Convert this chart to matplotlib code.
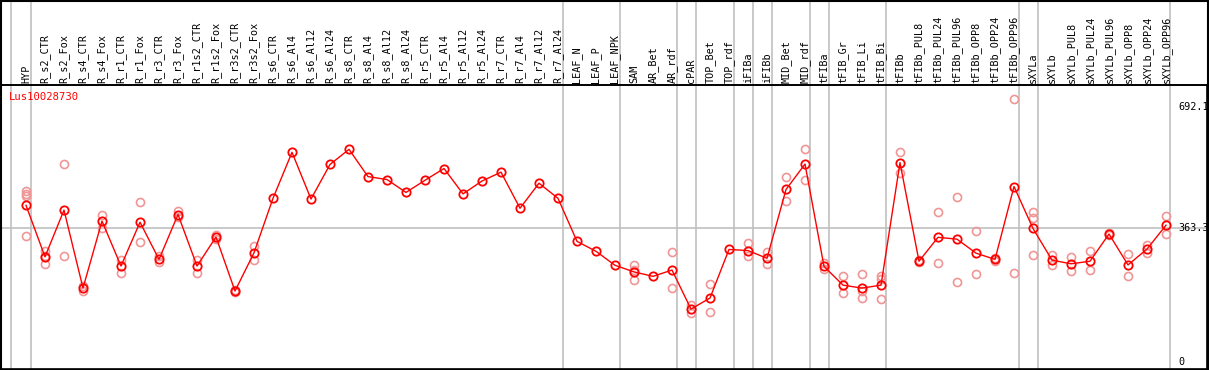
import matplotlib
matplotlib.use("Agg")
import matplotlib.pyplot as plt
from matplotlib.transforms import blended_transform_factory
from matplotlib.patches import Rectangle

categories = ["HYP", "R_s2_CTR", "R_s2_Fox", "R_s4_CTR", "R_s4_Fox", "R_r1_CTR", "R_r1_Fox",
              "R_r3_CTR", "R_r3_Fox", "R_r1s2_CTR", "R_r1s2_Fox", "R_r3s2_CTR", "R_r3s2_Fox",
              "R_s6_CTR", "R_s6_Al4", "R_s6_Al12", "R_s6_Al24", "R_s8_CTR", "R_s8_Al4",
              "R_s8_Al12", "R_s8_Al24", "R_r5_CTR", "R_r5_Al4", "R_r5_Al12", "R_r5_Al24",
              "R_r7_CTR", "R_r7_Al4", "R_r7_Al12", "R_r7_Al24", "LEAF_N", "LEAF_P", "LEAF_NPK",
              "SAM", "AR_Bet", "AR_rdf", "cPAR", "TOP_Bet", "TOP_rdf", "iFIBa", "iFIBb",
              "MID_Bet", "MID_rdf", "tFIBa", "tFIB_Gr", "tFIB_Li", "tFIB_Bi", "tFIBb",
              "tFIBb_PUL8", "tFIBb_PUL24", "tFIBb_PUL96", "tFIBb_OPP8", "tFIBb_OPP24",
              "tFIBb_OPP96", "sXYLa", "sXYLb", "sXYLb_PUL8", "sXYLb_PUL24", "sXYLb_PUL96",
              "sXYLb_OPP8", "sXYLb_OPP24", "sXYLb_OPP96"]

mean_values = [425, 285, 412, 200, 382, 260, 379, 278, 400, 260, 339, 192, 296,
               444, 569, 442, 536, 577, 503, 495, 460, 493, 525, 456, 491, 515, 417, 485, 444,
               327, 300, 262, 244, 232, 249, 143, 173, 305, 302, 281, 468, 537,
               259, 208, 200, 208, 541, 273, 338, 333, 295, 278, 476,
               362, 276, 266, 273, 347, 263, 306, 371]

replicates = [[464, 457, 450, 342], [302, 288, 265], [536, 287], [206, 193], [399, 362],
              [277, 242], [433, 325], [286, 270], [410, 392], [277, 242], [345, 333],
              [194, 190], [315, 276],
              [], [], [], [], [], [], [], [], [], [], [], [], [], [], [], [],
              [], [], [], [262, 250, 221], [], [297, 199], [155, 132], [211, 135], [],
              [323, 286], [298, 265], [501, 436], [579, 493],
              [268, 252], [232, 186], [239, 193, 173], [233, 226, 170], [571, 513],
              [276, 270], [406, 268], [447, 216], [354, 238], [281, 275], [715, 240],
              [407, 390, 289], [289, 264], [285, 246], [300, 249], [350, 344],
              [293, 232], [318, 295], [396, 348]]

separators = [-0.8, 0.25, 28.25, 31.25, 34.25, 35.25, 37.25, 38.25, 39.25, 41.25,
              42.25, 45.25, 52.25, 53.25, 60.22]

title = "Lus10028730"
ref_value = 363.3
max_value = 692.1

W, H = 1209, 370
fig = plt.figure(figsize=(W / 100, H / 100), dpi=100)
left_px, right_px, top_px, bottom_px = 1, 1207, 85, 369
ax = fig.add_axes([left_px / W, 1 - bottom_px / H, (right_px - left_px) / W, (bottom_px - top_px) / H])

x0, dx = 26, 19
ax.set_xlim((left_px - x0) / dx, (right_px - x0) / dx)
scale = 0.368
zero_px = 361.7
ax.set_ylim((zero_px - bottom_px) / scale, (zero_px - top_px) / scale)
ax.set_xticks([])
ax.set_yticks([])
for s in ax.spines.values():
    s.set_color("black")
    s.set_linewidth(1.2)

grey = "#c0c0c0"
trans = blended_transform_factory(ax.transData, ax.transAxes)
ytop = (bottom_px - 0) / (bottom_px - top_px)
for sx in separators:
    ax.plot([sx, sx], [0, ytop], color=grey, lw=1.2, transform=trans, clip_on=False, zorder=1)
ax.axhline(ref_value, color=grey, lw=1.2, zorder=1)

mono = "DejaVu Sans Mono"
for i, name in enumerate(categories):
    ax.text(i, 1.008, name, rotation=90, ha="center", va="bottom", transform=trans,
            fontsize=7.3, family=mono, color="black", clip_on=False)

xs = list(range(len(categories)))
light = "#f09696"
for i, reps in enumerate(replicates):
    if reps:
        ax.plot([i] * len(reps), reps, linestyle="none", marker="o", ms=5.8, mfc="none",
                mec=light, mew=1.2, zorder=2)
ax.plot(xs, mean_values, color="red", lw=1.0, marker="o", ms=6, mfc="none", mec="red",
        mew=1.3, zorder=3)

ax.text((9 - x0) / dx, (zero_px - 97) / scale, title, color="red", fontsize=7.6, family=mono,
        ha="left", va="center")

tx = (1178 - x0) / dx
for v, lab in [(max_value, "692.1"), (ref_value, "363.3"), (0, "0")]:
    ax.text(tx, v, lab, ha="left", va="center", fontsize=7.3, family=mono, color="black")

fig.add_artist(Rectangle((0.5 / W, 0.5 / H), (W - 2) / W, (H - 1.5) / H, transform=fig.transFigure,
                         fill=False, edgecolor="black", lw=1.5))
fig.add_artist(plt.Line2D([0, 1], [1 - top_px / H] * 2, transform=fig.transFigure, color="black", lw=1.2))

fig.savefig("out.png", dpi=100, facecolor="white")
